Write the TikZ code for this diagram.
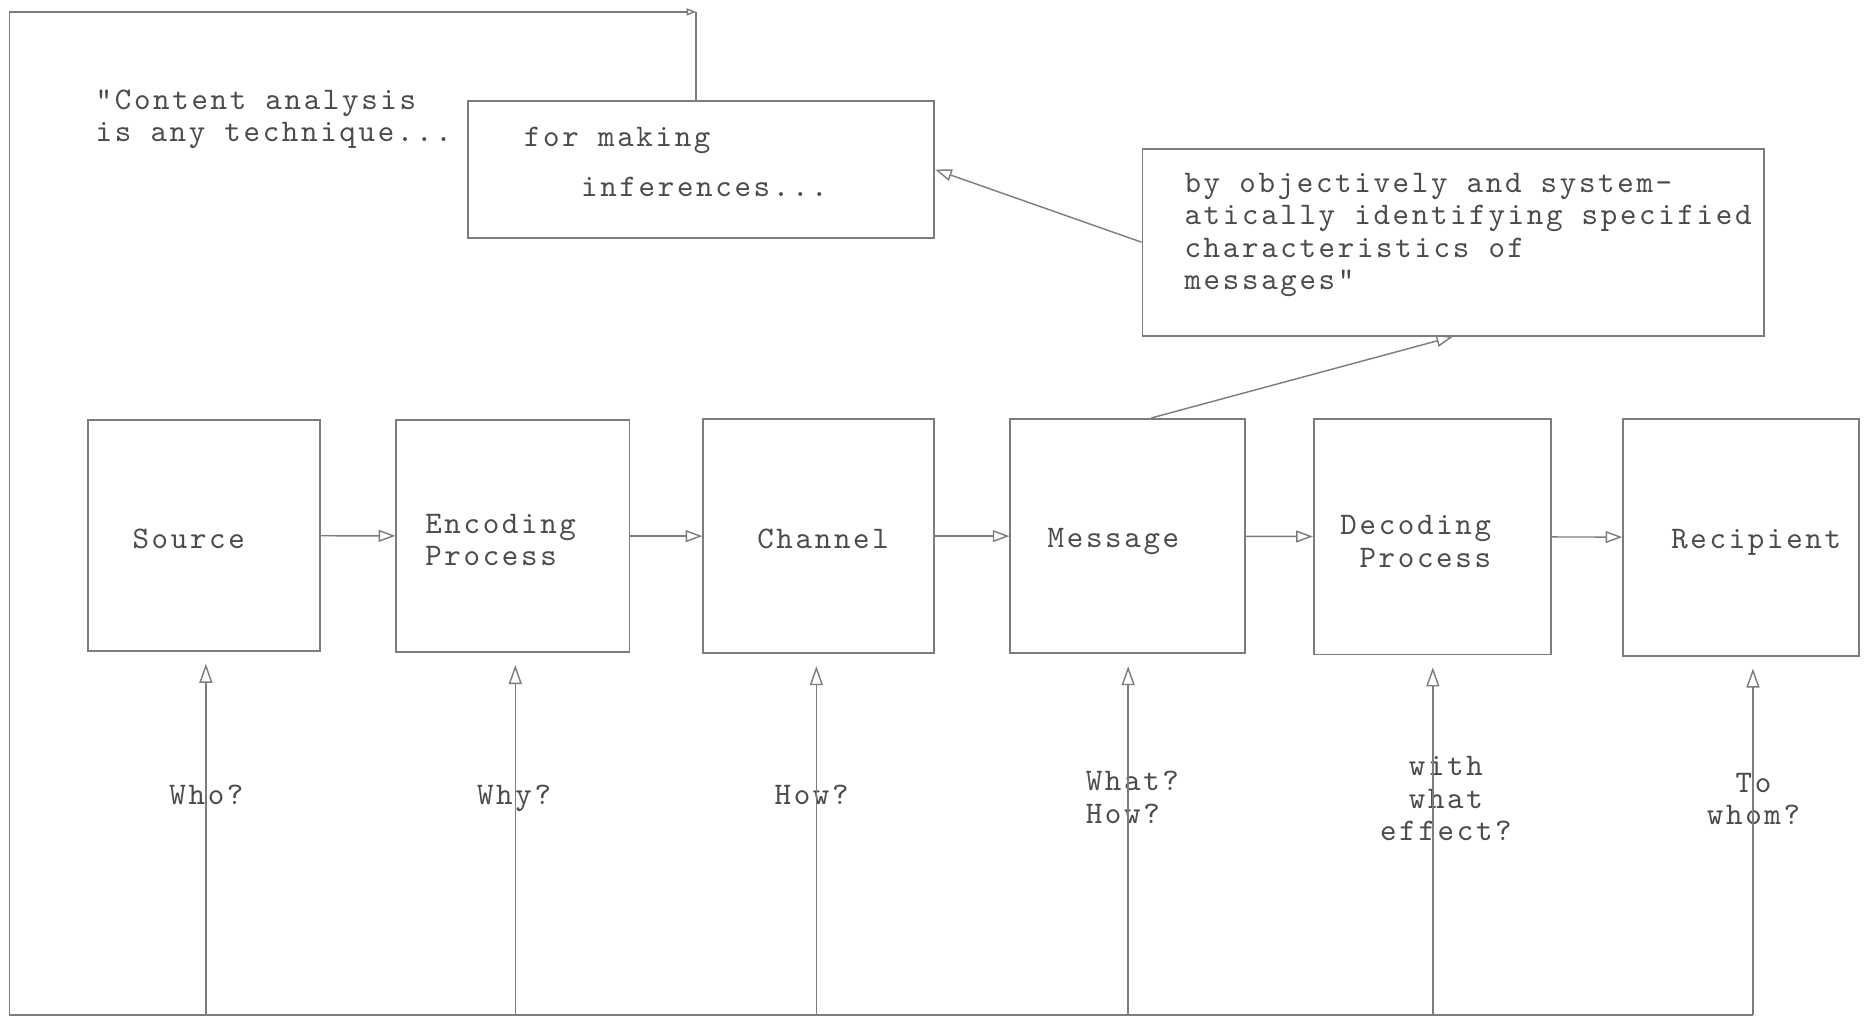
\documentclass[tikz,border=0pt]{standalone}
\usepackage{fontspec}
\newfontfamily\tw{lmmono10-regular.otf}[LetterSpace=8.5]
\usetikzlibrary{arrows.meta}
\definecolor{linec}{RGB}{125,125,125}
\definecolor{textc}{RGB}{75,75,75}
\begin{document}
\begin{tikzpicture}[x=0.5pt,y=-0.5pt,
  box/.style={draw=linec, line width=0.8pt, inner sep=0pt, rectangle},
  txt/.style={font=\tw\fontsize{13.2pt}{13.5pt}\selectfont, text=textc, inner sep=0pt},
  conn/.style={draw=linec, line width=0.6pt},
  arr/.style={conn, -{Triangle[open, length=7pt, width=5pt]}},
  uparr/.style={conn, -{Triangle[open, length=8pt, width=5.5pt]}, shorten >=5pt}]
\useasboundingbox (0,0) rectangle (1568,857);
\fill[white] (0,0) rectangle (1568,857);
% main boxes
\node[box, minimum width=97.5pt, minimum height=97pt] (src) at (171.5,450) {};
\node[box, minimum width=98pt, minimum height=97.5pt] (enc) at (431,450.5) {};
\node[box, minimum width=97pt, minimum height=98.5pt] (chn) at (688,450.5) {};
\node[box, minimum width=98.5pt, minimum height=98.5pt] (msg) at (947.5,450.5) {};
\node[box, minimum width=99.5pt, minimum height=99pt] (dec) at (1203.5,451) {};
\node[box, minimum width=99pt, minimum height=99.5pt] (rec) at (1463,451.5) {};
\node[box, minimum width=196pt, minimum height=57.5pt] (inf) at (589,142.5) {};
\node[box, minimum width=261pt, minimum height=78.5pt] (qb) at (1221,203.5) {};
% box texts
\node[txt, anchor=west] (srct) at (111,453) {Source};
\node[txt, anchor=west, align=left] (enct) at (357,453.5) {Encoding\\Process};
\node[txt, anchor=west] (chnt) at (636,453) {Channel};
\node[txt, anchor=west] (msgt) at (880,455) {Message};
\node[txt, anchor=west, align=left] (dect) at (1126,455) {Decoding\\\hspace*{8pt}Process};
\node[txt, anchor=west] (rect) at (1404,456) {Recipient};
\node[txt, anchor=west, align=left] (inft) at (440,136) {for making\\[7.5pt]\hspace*{24pt}inferences...};
\node[txt, anchor=west, align=left] (cat) at (80,100) {"Content analysis\\is any technique...};
\node[txt, anchor=west, align=left] (qbt) at (995,197.5) {by objectively and system-\\atically identifying specified\\characteristics of\\messages"};
% question labels
\node[txt] (q1) at (173.5,668) {Who?};
\node[txt] (q2) at (432,671) {Why?};
\node[txt] (q3) at (682,668) {How?};
\node[txt, anchor=west, align=left] (q4) at (912,670) {What?\\How?};
\node[txt, align=center] (q5) at (1215,671) {with\\what\\effect?};
\node[txt, align=center] (q6) at (1473.5,671.5) {To\\whom?};
% bus coordinates
\coordinate (b1) at (173,853);
\coordinate (b2) at (433,853);
\coordinate (b3) at (686,853);
\coordinate (b4) at (948,853);
\coordinate (b5) at (1204,853);
\coordinate (b6) at (1473,853);
\coordinate (BL) at (8,853);
\coordinate (TL) at (8,10);
\coordinate (TR) at (585,10);
% flow arrows
\draw[arr] (src) -- (enc);
\draw[arr] (enc) -- (chn);
\draw[arr] (chn) -- (msg);
\draw[arr] (msg) -- (dec);
\draw[arr] (dec) -- (rec);
% question arrows
\draw[uparr] (b1) -- (b1 |- src.south);
\draw[uparr] (b2) -- (b2 |- enc.south);
\draw[uparr] (b3) -- (b3 |- chn.south);
\draw[uparr] (b4) -- (b4 |- msg.south);
\draw[uparr] (b5) -- (b5 |- dec.south);
\draw[uparr] (b6) -- (b6 |- rec.south);
% feedback loop
\draw[conn, -{Triangle[open, length=4pt, width=3pt]}] (b6) -- (BL) -- (TL) -- (TR);
\draw[conn] (TR) -- (TR |- inf.north);
% definition arrows
\draw[arr] (qb.west) -- (inf.east);
\draw[arr] ([xshift=10pt]msg.north) -- (qb.south);
\end{tikzpicture}
\end{document}
